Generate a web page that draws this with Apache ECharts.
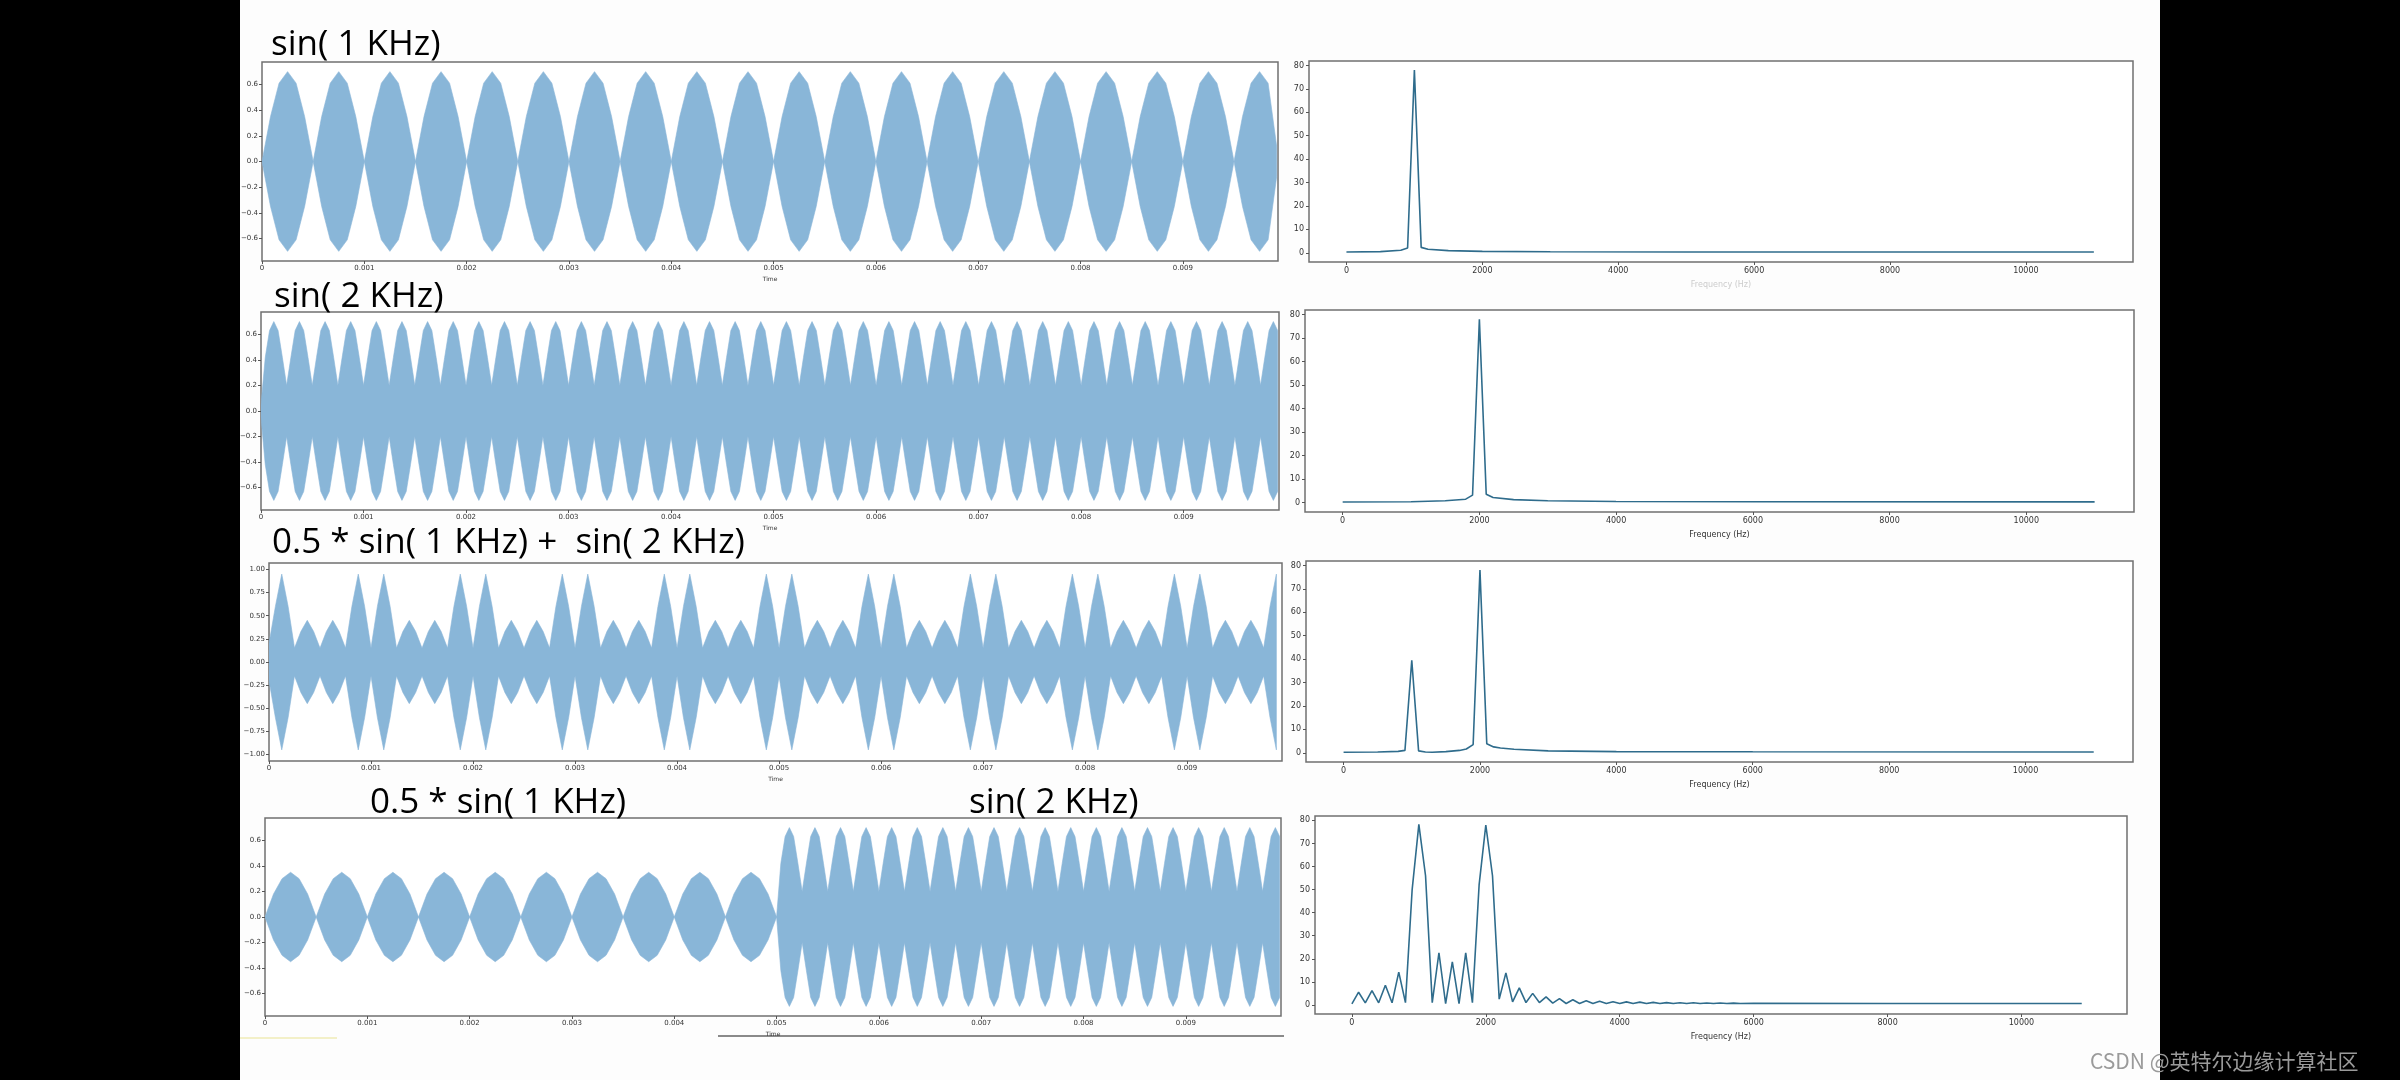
<!DOCTYPE html>
<html><head><meta charset="utf-8">
<script src="https://cdn.jsdelivr.net/npm/echarts@6/dist/echarts.min.js"></script>
<style>html,body{margin:0;padding:0;background:#000;}#c{width:2400px;height:1080px;}</style>
</head><body><div id="c"></div>
<script>
// ---------------- data ----------------
const titleTexts = ['sin( 1 KHz)', 'sin( 2 KHz)', '0.5 * sin( 1 KHz) +  sin( 2 KHz)', '0.5 * sin( 1 KHz)', 'sin( 2 KHz)'];
const timeTicks = [0, 0.001, 0.002, 0.003, 0.004, 0.005, 0.006, 0.007, 0.008, 0.009];
const ampTicks = [-0.6, -0.4, -0.2, 0, 0.2, 0.4, 0.6];
const ampTicks3 = [-1, -0.75, -0.5, -0.25, 0, 0.25, 0.5, 0.75, 1];
const freqTicks = [0, 2000, 4000, 6000, 8000, 10000];
const magTicks = [0, 10, 20, 30, 40, 50, 60, 70, 80];

// waveform envelopes (upper envelope; the fill is mirrored around 0)
const env1Start = 0, env1Step = 0.0005 / 6;
const env1 = [
0,.35,.61,.7,.61,.35, 0,.35,.61,.7,.61,.35, 0,.35,.61,.7,.61,.35, 0,.35,.61,.7,.61,.35,
0,.35,.61,.7,.61,.35, 0,.35,.61,.7,.61,.35, 0,.35,.61,.7,.61,.35, 0,.35,.61,.7,.61,.35,
0,.35,.61,.7,.61,.35, 0,.35,.61,.7,.61,.35, 0,.35,.61,.7,.61,.35, 0,.35,.61,.7,.61,.35,
0,.35,.61,.7,.61,.35, 0,.35,.61,.7,.61,.35, 0,.35,.61,.7,.61,.35, 0,.35,.61,.7,.61,.35,
0,.35,.61,.7,.61,.35, 0,.35,.61,.7,.61,.35, 0,.35,.61,.7,.61,.35, 0,.35,.61,.7,.61,.12];
const env2Start = 0, env2Step = 0.00025 / 6;
const env2 = [
.05,.42,.63,.7,.63,.42, .2,.42,.63,.7,.63,.42, .2,.42,.63,.7,.63,.42, .2,.42,.63,.7,.63,.42,
.2,.42,.63,.7,.63,.42, .2,.42,.63,.7,.63,.42, .2,.42,.63,.7,.63,.42, .2,.42,.63,.7,.63,.42,
.2,.42,.63,.7,.63,.42, .2,.42,.63,.7,.63,.42, .2,.42,.63,.7,.63,.42, .2,.42,.63,.7,.63,.42,
.2,.42,.63,.7,.63,.42, .2,.42,.63,.7,.63,.42, .2,.42,.63,.7,.63,.42, .2,.42,.63,.7,.63,.42,
.2,.42,.63,.7,.63,.42, .2,.42,.63,.7,.63,.42, .2,.42,.63,.7,.63,.42, .2,.42,.63,.7,.63,.42,
.2,.42,.63,.7,.63,.42, .2,.42,.63,.7,.63,.42, .2,.42,.63,.7,.63,.42, .2,.42,.63,.7,.63,.42,
.2,.42,.63,.7,.63,.42, .2,.42,.63,.7,.63,.42, .2,.42,.63,.7,.63,.42, .2,.42,.63,.7,.63,.42,
.2,.42,.63,.7,.63,.42, .2,.42,.63,.7,.63,.42, .2,.42,.63,.7,.63,.42, .2,.42,.63,.7,.63,.42,
.2,.42,.63,.7,.63,.42, .2,.42,.63,.7,.63,.42, .2,.42,.63,.7,.63,.42, .2,.42,.63,.7,.63,.42,
.2,.42,.63,.7,.63,.42, .2,.42,.63,.7,.63,.42, .2,.42,.63,.7,.63,.42, .2,.42,.63,.7,.63,.42];
const env3Start = 0, env3Step = 0.0000625;
const env3 = [
.2,.6,.95,.6, .15,.33,.45,.33, .15,.33,.45,.33, .15,.6,.95,.6,
.15,.6,.95,.6, .15,.33,.45,.33, .15,.33,.45,.33, .15,.6,.95,.6,
.15,.6,.95,.6, .15,.33,.45,.33, .15,.33,.45,.33, .15,.6,.95,.6,
.15,.6,.95,.6, .15,.33,.45,.33, .15,.33,.45,.33, .15,.6,.95,.6,
.15,.6,.95,.6, .15,.33,.45,.33, .15,.33,.45,.33, .15,.6,.95,.6,
.15,.6,.95,.6, .15,.33,.45,.33, .15,.33,.45,.33, .15,.6,.95,.6,
.15,.6,.95,.6, .15,.33,.45,.33, .15,.33,.45,.33, .15,.6,.95,.6,
.15,.6,.95,.6, .15,.33,.45,.33, .15,.33,.45,.33, .15,.6,.95,.6,
.15,.6,.95,.6, .15,.33,.45,.33, .15,.33,.45,.33, .15,.6,.95,.6,
.15,.6,.95,.6, .15,.33,.45,.33, .15,.33,.45,.33, .15,.6,.95,.6];
const env4aStart = 0, env4aStep = 0.0005 / 6;
const env4a = [
0,.18,.3,.35,.3,.18, 0,.18,.3,.35,.3,.18, 0,.18,.3,.35,.3,.18, 0,.18,.3,.35,.3,.18, 0,.18,.3,.35,.3,.18,
0,.18,.3,.35,.3,.18, 0,.18,.3,.35,.3,.18, 0,.18,.3,.35,.3,.18, 0,.18,.3,.35,.3,.18, 0,.18,.3,.35,.3,.18];
const env4bStart = 0.005, env4bStep = 0.00025 / 6;
const env4b = [
0,.42,.63,.7,.63,.42, .2,.42,.63,.7,.63,.42, .2,.42,.63,.7,.63,.42, .2,.42,.63,.7,.63,.42,
.2,.42,.63,.7,.63,.42, .2,.42,.63,.7,.63,.42, .2,.42,.63,.7,.63,.42, .2,.42,.63,.7,.63,.42,
.2,.42,.63,.7,.63,.42, .2,.42,.63,.7,.63,.42, .2,.42,.63,.7,.63,.42, .2,.42,.63,.7,.63,.42,
.2,.42,.63,.7,.63,.42, .2,.42,.63,.7,.63,.42, .2,.42,.63,.7,.63,.42, .2,.42,.63,.7,.63,.42,
.2,.42,.63,.7,.63,.42, .2,.42,.63,.7,.63,.42, .2,.42,.63,.7,.63,.42, .2,.42,.63,.7,.63,.42];

// spectra [frequency Hz, magnitude]
const fft1 = [[0,0.3],[500,0.5],[800,1.1],[900,2.0],[1000,78],[1100,2.3],[1200,1.5],[1500,0.9],[2000,0.6],[3000,0.45],[5000,0.35],[11000,0.3]];
const fft2 = [[0,0.3],[1000,0.4],[1500,0.8],[1800,1.5],[1900,3.2],[2000,78],[2100,3.6],[2200,2.2],[2500,1.3],[3000,0.8],[4000,0.5],[6000,0.4],[11000,0.35]];
const fft3 = [[0,0.2],[500,0.3],[800,0.6],[900,1.0],[1000,39.5],[1100,0.8],[1200,0.3],[1300,0.2],[1500,0.5],[1700,1.0],[1800,1.6],[1900,3.5],[2000,78],[2100,3.8],[2200,2.5],[2300,2.0],[2500,1.5],[3000,0.8],[4000,0.5],[6000,0.4],[11000,0.3]];
const fft4 = [[0,0.4],[100,5.5],[200,0.9],[300,6.2],[400,0.9],[500,8.5],[600,0.9],[700,14.2],[800,1.0],[900,50],[1000,78.3],[1100,56],[1200,1.0],[1300,22.6],[1400,0.5],[1500,18.7],[1600,0.5],[1700,22.6],[1800,1.0],[1900,52],[2000,78],[2100,56],[2200,2.5],[2300,13.9],[2400,1.3],[2500,7.4],[2600,1.0],[2700,5.0],[2800,1.0],[2900,3.5],[3000,0.8],[3100,2.7],[3200,0.6],[3300,2.2],[3400,0.6],[3500,1.8],[3600,0.6],[3700,1.6],[3800,0.6],[3900,1.4],[4000,0.6],[4100,1.3],[4200,0.6],[4300,1.2],[4400,0.6],[4500,1.1],[4600,0.6],[4700,1.0],[4800,0.6],[4900,0.95],[5000,0.6],[5100,0.9],[5200,0.6],[5300,0.85],[5400,0.6],[5500,0.8],[5600,0.6],[5700,0.75],[5800,0.6],[6000,0.65],[8000,0.6],[10900,0.6]];

// ---------------- layout / style ----------------
const FILL = '#89b6d8', LINE = '#2f6c8c', FRAME = '#707070', TXT = '#333';
const TMAX = 0.00993;
const leftGrids = [
  {left:262, top:62, width:1016, height:199},
  {left:261, top:312, width:1018, height:198},
  {left:269, top:563, width:1013, height:198},
  {left:265, top:818, width:1016, height:198}
];
const rightGrids = [
  {left:1309, top:61, width:824, height:201},
  {left:1305, top:310, width:829, height:202},
  {left:1306, top:561, width:827, height:201},
  {left:1315, top:816, width:812, height:198}
];
const minus = s => s.replace('-', '\u2212');
const grids = [], xAxes = [], yAxes = [], series = [];
function addGrid(g){ grids.push(Object.assign({show:true, borderColor:FRAME, borderWidth:1.5, backgroundColor:'#fff'}, g)); return grids.length-1; }
function pts(env, t0, step){ return env.map((v,i)=>[t0 + i*step, v]); }

const leftEnvs = [
  [[env1, env1Start, env1Step]],
  [[env2, env2Start, env2Step]],
  [[env3, env3Start, env3Step]],
  [[env4a, env4aStart, env4aStep],[env4b, env4bStart, env4bStep]]
];
leftGrids.forEach((g, k) => {
  const gi = addGrid(g);
  const big = k === 2;
  const lim = big ? 1.07 : 0.775;
  xAxes.push({type:'value', gridIndex:gi, min:0, max:TMAX, name:'Time', nameLocation:'middle', nameGap:15,
    nameTextStyle:{fontSize:6, color:TXT, fontFamily:'DejaVu Sans'},
    axisLine:{show:false, onZero:false}, splitLine:{show:false},
    axisTick:{show:true, length:3, lineStyle:{color:'#555'}, customValues:timeTicks},
    axisLabel:{fontSize:7, color:TXT, fontFamily:'DejaVu Sans', margin:4, customValues:timeTicks,
      formatter:v => v === 0 ? '0' : v.toFixed(3)}});
  const yt = big ? ampTicks3 : ampTicks;
  yAxes.push({type:'value', gridIndex:gi, min:-lim, max:lim,
    axisLine:{show:false, onZero:false}, splitLine:{show:false},
    axisTick:{show:true, length:3, lineStyle:{color:'#555'}, customValues:yt},
    axisLabel:{fontSize:7, color:TXT, fontFamily:'DejaVu Sans', margin:4, customValues:yt,
      formatter:v => minus(v.toFixed(big ? 2 : 1))}});
  let env = [];
  leftEnvs[k].forEach(([e, t0, st]) => { env = env.concat(pts(e, t0, st)); });
  env = env.filter(p => p[0] <= TMAX);
  // one filled band from -envelope to +envelope, positioned through the axes
  series.push({type:'custom', xAxisIndex:gi, yAxisIndex:gi, data:[0], silent:true, clip:true,
    renderItem:(params, api) => {
      const up = env.map(p => api.coord([p[0], p[1]]));
      const dn = env.slice().reverse().map(p => api.coord([p[0], -p[1]]));
      return {type:'polygon', shape:{points:up.concat(dn)}, style:{fill:FILL, stroke:FILL, lineWidth:0.6}};
    }});
});

const ffts = [fft1, fft2, fft3, fft4];
rightGrids.forEach((g, k) => {
  const gi = addGrid(g);
  xAxes.push({type:'value', gridIndex:gi, min:-551, max:11576, name:'Frequency (Hz)', nameLocation:'middle', nameGap:19,
    nameTextStyle:{fontSize:8, color: k === 0 ? '#ccc' : TXT, fontFamily:'DejaVu Sans'},
    axisLine:{show:false, onZero:false}, splitLine:{show:false},
    axisTick:{show:true, length:3, lineStyle:{color:'#555'}, customValues:freqTicks},
    axisLabel:{fontSize:8, color:TXT, fontFamily:'DejaVu Sans', margin:5, customValues:freqTicks, formatter:v => String(v)}});
  yAxes.push({type:'value', gridIndex:gi, min:-3.95, max:81.9,
    axisLine:{show:false, onZero:false}, splitLine:{show:false},
    axisTick:{show:true, length:3, lineStyle:{color:'#555'}, customValues:magTicks},
    axisLabel:{fontSize:8, color:TXT, fontFamily:'DejaVu Sans', margin:5, customValues:magTicks, formatter:v => String(v)}});
  series.push({type:'line', xAxisIndex:gi, yAxisIndex:gi, data:ffts[k], symbol:'none',
    lineStyle:{width:1.6, color:LINE}, silent:true});
});

const titleFont = '"Open Sans", "Noto Sans", sans-serif';
const titlePos = [[271,45],[274,297],[272,543],[370,803],[969,803]];
const graphics = [
  {type:'rect', shape:{x:0, y:0, width:240, height:1080}, style:{fill:'#000'}},
  {type:'rect', shape:{x:2160, y:0, width:240, height:1080}, style:{fill:'#000'}},
  {type:'rect', shape:{x:240, y:1037, width:97, height:2}, style:{fill:'#f3f0c8'}},
  {type:'rect', shape:{x:718, y:1035, width:566, height:2}, style:{fill:'#8a8a8a'}},
  {type:'text', x:2090, y:1061, style:{text:'CSDN @英特尔边缘计算社区', fontSize:21, fill:'#9a9a9a',
    fontFamily:'"Noto Sans CJK SC", sans-serif', verticalAlign:'middle'}}
];
titleTexts.forEach((t, i) => graphics.push({type:'text', x:titlePos[i][0], y:titlePos[i][1],
  style:{text:t, fontSize:35, fontFamily:titleFont, fill:'#000', verticalAlign:'middle'}}));

const chart = echarts.init(document.getElementById('c'), null, {width:2400, height:1080});
chart.setOption({
  animation:false, backgroundColor:'#fdfdfd',
  grid:grids, xAxis:xAxes, yAxis:yAxes, series:series, graphic:graphics
});
</script></body></html>
